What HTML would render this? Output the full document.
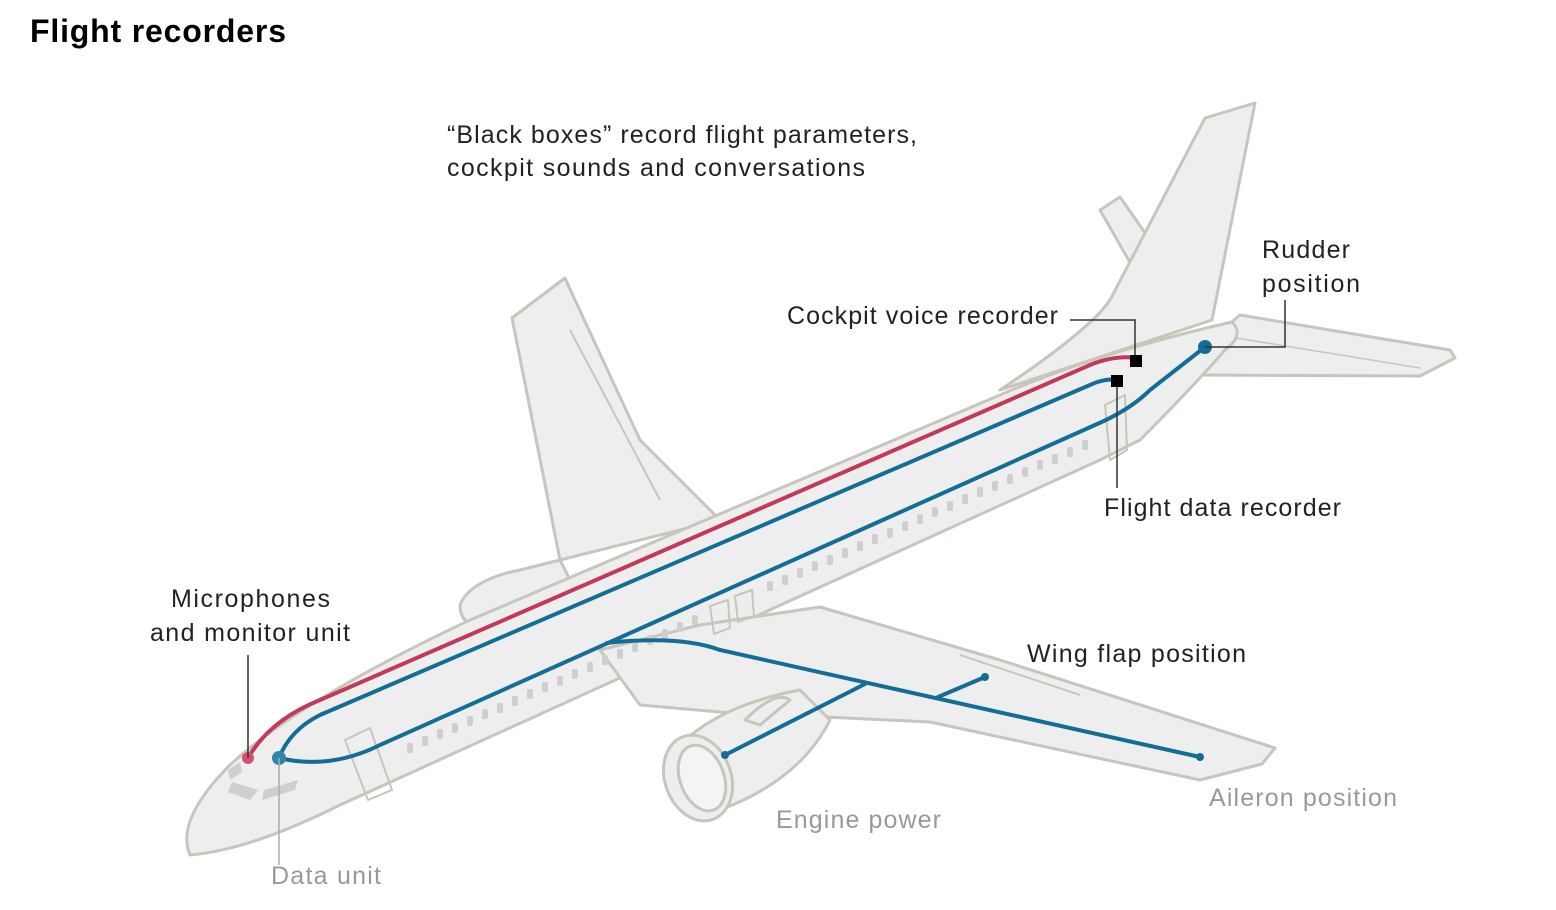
<!DOCTYPE html>
<html><head><meta charset="utf-8"><style>
body{margin:0;background:#fff;}
svg{display:block}
text{font-family:"Liberation Sans",sans-serif;}
</style></head><body>
<svg width="1556" height="910" viewBox="0 0 1556 910" xmlns="http://www.w3.org/2000/svg">
<rect width="1556" height="910" fill="#fff"/>
<text x="30" y="42" font-size="32" font-weight="bold" fill="#000" textLength="256">Flight recorders</text>
<text x="447" y="143" font-size="25" fill="#222" textLength="470">“Black boxes” record flight parameters,</text>
<text x="447" y="176" font-size="25" fill="#222" textLength="418">cockpit sounds and conversations</text>

<g fill="#eeeeee" stroke="#c6c6bb" stroke-width="3" stroke-linejoin="round">
<path d="M560,560 L512,318 L565,278 L575,300 L640,440 L700,500 L720,520 Z"/>
<path d="M570,330 L660,500" fill="none" stroke-width="2"/>
<path d="M460,605 Q470,580 520,570 L560,560 L580,600 L480,625 Q460,625 460,605 Z"/>
<path d="M1100,210 L1120,197 L1150,240 L1140,280 Z"/>
<path d="M1000,390 Q1090,330 1110,300 L1205,118 L1255,103 L1212,320 Z"/>
<path d="M1180,365 L1240,315 L1450,350 L1455,358 L1420,376 L1195,375 Z"/>
<path d="M1230,337 L1420,368" fill="none" stroke-width="1.5"/>
<path d="M190,855 Q175,820 230,765 Q300,700 470,620 L1000,395 Q1100,352 1232,322 Q1245,335 1225,350 Q1190,390 1140,440 L1100,460 L340,805 Q250,850 190,855 Z"/>
<path d="M600,650 L700,625 L820,607 L1000,660 L1275,748 L1262,764 L1200,780 L930,722 L720,712 L640,705 Z"/>
<path d="M960,655 L1080,695" fill="none" stroke-width="2"/>
<path d="M680,745 Q720,705 800,690 L830,720 Q800,780 720,810 Z"/>
<ellipse cx="698" cy="778" rx="33" ry="44" transform="rotate(-20 698 778)"/>
<ellipse cx="702" cy="778" rx="22" ry="34" transform="rotate(-20 702 778)" fill="#f4f4f4"/>
<path d="M745,720 Q775,690 790,700 L760,725 Z"/>
<path d="M345,740 L370,728 L392,790 L368,800 Z" fill="none" stroke-width="2"/>
<path d="M710,606 L728,600 L730,628 L714,634 Z" fill="none" stroke-width="2"/>
<path d="M735,596 L752,590 L754,616 L738,622 Z" fill="none" stroke-width="2"/>
<path d="M1105,405 L1125,395 L1127,450 L1110,460 Z" fill="none" stroke-width="2"/>
</g>
<g fill="#cfcfcf">
<path d="M228,770 L240,762 L242,772 L230,780 Z"/>
<path d="M232,782 L258,790 L250,800 L228,792 Z"/>
<path d="M264,790 L298,780 L295,790 L262,800 Z"/>
</g>
<g fill="#cfcfcf">
<rect x="407" y="743" width="6" height="10" rx="2"/><rect x="422" y="736" width="6" height="10" rx="2"/><rect x="437" y="729" width="6" height="10" rx="2"/><rect x="452" y="723" width="6" height="10" rx="2"/><rect x="467" y="716" width="6" height="10" rx="2"/><rect x="482" y="709" width="6" height="10" rx="2"/><rect x="497" y="703" width="6" height="10" rx="2"/><rect x="512" y="696" width="6" height="10" rx="2"/><rect x="527" y="689" width="6" height="10" rx="2"/><rect x="542" y="682" width="6" height="10" rx="2"/><rect x="557" y="676" width="6" height="10" rx="2"/><rect x="572" y="669" width="6" height="10" rx="2"/><rect x="587" y="662" width="6" height="10" rx="2"/><rect x="602" y="655" width="6" height="10" rx="2"/><rect x="617" y="649" width="6" height="10" rx="2"/><rect x="632" y="642" width="6" height="10" rx="2"/><rect x="647" y="635" width="6" height="10" rx="2"/><rect x="662" y="629" width="6" height="10" rx="2"/><rect x="677" y="622" width="6" height="10" rx="2"/><rect x="692" y="615" width="6" height="10" rx="2"/>
<rect x="767" y="581" width="6" height="10" rx="2"/><rect x="782" y="575" width="6" height="10" rx="2"/><rect x="797" y="568" width="6" height="10" rx="2"/><rect x="812" y="561" width="6" height="10" rx="2"/><rect x="827" y="555" width="6" height="10" rx="2"/><rect x="842" y="548" width="6" height="10" rx="2"/><rect x="857" y="541" width="6" height="10" rx="2"/><rect x="872" y="534" width="6" height="10" rx="2"/><rect x="887" y="528" width="6" height="10" rx="2"/><rect x="902" y="521" width="6" height="10" rx="2"/><rect x="917" y="514" width="6" height="10" rx="2"/><rect x="932" y="507" width="6" height="10" rx="2"/><rect x="947" y="501" width="6" height="10" rx="2"/><rect x="962" y="494" width="6" height="10" rx="2"/><rect x="977" y="487" width="6" height="10" rx="2"/><rect x="992" y="481" width="6" height="10" rx="2"/><rect x="1007" y="474" width="6" height="10" rx="2"/><rect x="1022" y="467" width="6" height="10" rx="2"/><rect x="1037" y="460" width="6" height="10" rx="2"/><rect x="1052" y="454" width="6" height="10" rx="2"/><rect x="1067" y="447" width="6" height="10" rx="2"/><rect x="1082" y="440" width="6" height="10" rx="2"/>
</g>

<g fill="none" stroke-width="4" stroke-linecap="round">
<path d="M248,758 Q270,720 320,700 L1090,365 Q1115,355 1136,358" stroke="#c2395a"/>
<path d="M279,758 Q290,730 320,715 L1090,385 Q1105,378 1118,380" stroke="#136e96"/>
<path d="M279,758 Q330,770 380,745 L1095,425 Q1130,410 1150,390 L1205,347" stroke="#136e96"/>
<path d="M607,643 Q680,635 720,650 L1200,757" stroke="#136e96"/>
<path d="M725,755 L865,684" stroke="#136e96"/>
<path d="M938,697 L985,677" stroke="#136e96"/>
</g>
<circle cx="248" cy="758" r="6" fill="#d4506e"/>
<circle cx="279" cy="758" r="7" fill="#2f86ad"/>
<circle cx="1205" cy="347" r="7" fill="#136e96"/>
<circle cx="725" cy="755" r="4" fill="#136e96"/>
<circle cx="985" cy="677" r="4" fill="#136e96"/>
<circle cx="1200" cy="757" r="4" fill="#136e96"/>
<rect x="1130" y="355" width="12" height="12" fill="#000"/>
<rect x="1111" y="375" width="12" height="12" fill="#000"/>

<g stroke="#333" stroke-width="1.5" fill="none">
<path d="M1070,320 L1135,320 L1135,355"/>
<path d="M1117,387 L1117,488"/>
<path d="M1205,347 L1285,347 L1285,300"/>
<path d="M248,758 L248,655"/>
</g>
<path d="M279,758 L279,865" stroke="#aaa" stroke-width="1.5"/>

<g font-size="25" fill="#222">
<text x="787" y="324" textLength="271">Cockpit voice recorder</text>
<text x="1262" y="258" textLength="88">Rudder</text>
<text x="1262" y="292" textLength="98">position</text>
<text x="1104" y="516" textLength="237">Flight data recorder</text>
<text x="1027" y="662" textLength="219">Wing flap position</text>
<text x="171" y="607" textLength="159">Microphones</text>
<text x="150" y="641" textLength="200">and monitor unit</text>
</g>
<g font-size="25" fill="#999">
<text x="776" y="828" textLength="165">Engine power</text>
<text x="1209" y="806" textLength="188">Aileron position</text>
<text x="271" y="884" textLength="110">Data unit</text>
</g>
</svg>
</body></html>
